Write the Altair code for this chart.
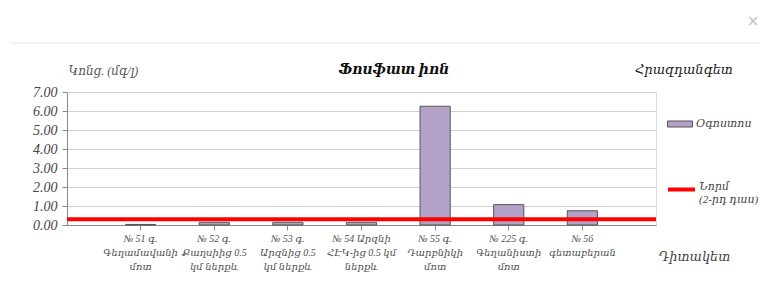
import altair as alt
import pandas as pd

# ---------------- data ----------------
stations = [
    "№ 51 գ.|Գեղամավանի|մոտ",
    "№ 52 գ.|Քաղսիից 0.5|կմ ներքև",
    "№ 53 գ.|Արզնից  0.5|կմ ներքև",
    "№ 54 Արզնի|ՀԷԿ-ից 0.5 կմ|ներքև",
    "№ 55 գ.|Դարբնիկի|մոտ",
    "№ 225 գ.|Գեղանիստի|մոտ",
    "№ 56|գետաբերան",
]
august = [0.03, 0.14, 0.14, 0.14, 6.25, 1.07, 0.75]
norm = [0.3]
series_name = "Օգոստոս"
norm_name = "Նորմ|(2-րդ դաս)"
title_text = "Ֆոսֆատ իոն"
river_text = "Հրազդանգետ"
y_title = "Կոնց. (մգ/լ)"
x_title = "Դիտակետ"
y_ticks = [0, 1, 2, 3, 4, 5, 6, 7]

FONT = "Liberation Serif, DejaVu Serif"
W, H = 589, 133

bars_df = pd.DataFrame({"station": stations, "value": august, "series": series_name})
norm_df = pd.DataFrame({"value": norm, "series": [norm_name]})
river_df = pd.DataFrame({"t": [river_text]})
title_df = pd.DataFrame({"t": [title_text]})
close_df = pd.DataFrame({"t": ["×"]})

x_enc = alt.X(
    "station:N",
    sort=stations,
    scale=alt.Scale(paddingInner=0, paddingOuter=0.5),
    axis=alt.Axis(
        title=x_title,
        labelExpr="split(datum.label, '|')",
        labelAngle=0,
        labelFont=FONT,
        labelFontStyle="italic",
        labelFontSize=10,
        labelColor="#505050",
        labelLineHeight=14,
        labelPadding=3,
        labelOverlap=False,
        labelLimit=0,
        tickSize=5,
        tickColor="#888888",
        domainColor="#888888",
        grid=False,
        titleX=591,
        titleY=31,
        titleAlign="left",
        titleBaseline="middle",
        titleFont=FONT,
        titleFontStyle="italic",
        titleFontWeight="normal",
        titleFontSize=13,
        titleColor="#444444",
    ),
)

y_axis = alt.Axis(
    values=y_ticks,
    format=".2f",
    labelOverlap=False,
    labelFont=FONT,
    labelFontStyle="italic",
    labelFontSize=14,
    labelColor="#444444",
    labelPadding=5,
    tickSize=5,
    tickColor="#888888",
    domainColor="#888888",
    gridColor="#cfcfcf",
    title=y_title,
    titleAngle=0,
    titleX=1,
    titleY=-22,
    titleAlign="left",
    titleBaseline="middle",
    titleFont=FONT,
    titleFontStyle="italic",
    titleFontWeight="normal",
    titleFontSize=12,
    titleColor="#555555",
)
y_scale = alt.Scale(domain=[0, 7], nice=False)

bars = alt.Chart(bars_df).mark_bar(
    width=alt.RelativeBandSize(0.41), stroke="#555555", strokeWidth=1
).encode(
    x=x_enc,
    y=alt.Y("value:Q", scale=y_scale, axis=y_axis),
    fill=alt.Fill(
        "series:N",
        scale=alt.Scale(domain=[series_name], range=["#b3a2c7"]),
        legend=alt.Legend(
            title=None,
            orient="none",
            legendX=600,
            legendY=19,
            padding=0,
            symbolType="M-1,-0.24H1V0.24H-1Z",
            symbolSize=625,
            symbolStrokeColor="#555555",
            symbolStrokeWidth=1,
            labelOffset=3,
            labelFont=FONT,
            labelFontStyle="italic",
            labelFontSize=11,
            labelColor="#444444",
        ),
    ),
)

rule = alt.Chart(norm_df).mark_rule(strokeWidth=4).encode(
    y=alt.Y("value:Q", scale=y_scale, axis=y_axis),
    stroke=alt.Stroke(
        "series:N",
        scale=alt.Scale(domain=[norm_name], range=["#ff0000"]),
        legend=alt.Legend(
            title=None,
            orient="none",
            legendX=599,
            legendY=82,
            padding=0,
            symbolType="stroke",
            symbolSize=729,
            symbolStrokeWidth=4,
            labelOffset=2,
            labelExpr="split(datum.label, '|')",
            labelBaseline="alphabetic",
            labelFont=FONT,
            labelFontStyle="italic",
            labelFontSize=11,
            labelColor="#444444",
        ),
    ),
)

title_mark = alt.Chart(title_df).mark_text(
    align="center", baseline="middle", font=FONT, fontStyle="italic",
    fontWeight="bold", fontSize=14, color="#111111"
).encode(text="t:N", x=alt.value(327), y=alt.value(-22))

river = alt.Chart(river_df).mark_text(
    align="left", baseline="middle", font=FONT, fontStyle="italic",
    fontSize=13, color="#222222"
).encode(text="t:N", x=alt.value(568), y=alt.value(-22))

header_line = alt.Chart(river_df).mark_rule(color="#e6e6e6", strokeWidth=1).encode(
    x=alt.value(-56), x2=alt.value(693), y=alt.value(-49)
)

close_x = alt.Chart(close_df).mark_text(
    align="center", baseline="middle", fontSize=15, color="#c0c0c0", font="DejaVu Sans"
).encode(text="t:N", x=alt.value(686), y=alt.value(-71))

chart = (
    alt.layer(bars, rule, title_mark, river, header_line, close_x)
    .properties(
        width=W,
        height=H,
        autosize=alt.AutoSizeParams(type="none"),
        padding={"left": 59, "top": 84, "right": 104, "bottom": 74},
    )
    .resolve_legend(fill="independent", stroke="independent")
    .configure_view(stroke="#888888", strokeWidth=1)
    .configure(background="white")
)

chart.save("out.html", embed_options={"renderer": "svg", "actions": False})
